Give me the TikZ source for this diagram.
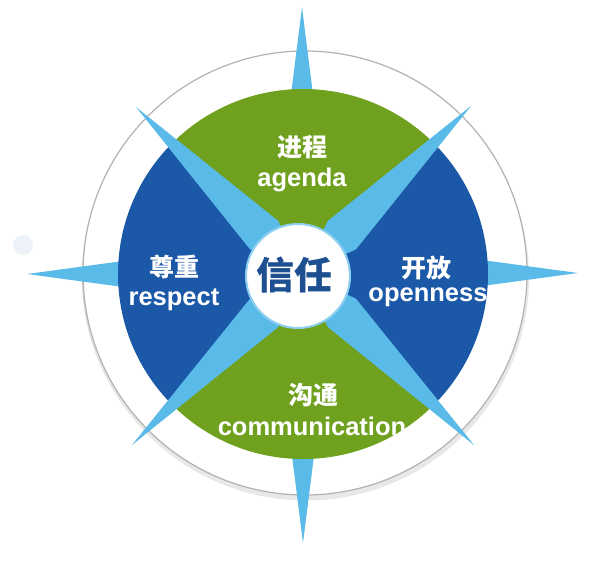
\documentclass[tikz,border=0pt]{standalone}
\usepackage{fontspec}
\usetikzlibrary{calc}
\setmainfont{Liberation Sans}
\newfontfamily\cjk{Noto Sans CJK SC}
\definecolor{dgreen}{HTML}{6FA11E}
\definecolor{dblue}{HTML}{1B59A8}
\definecolor{lblue}{HTML}{5BBBE8}
\definecolor{tblue}{HTML}{1D4F91}
\definecolor{dotc}{HTML}{EDF2F8}
\begin{document}
\begin{tikzpicture}[x=1pt,y=-1pt,
  lab/.style={text=white,font=\fontsize{25.5}{28}\selectfont\bfseries,inner sep=0pt},
  zh/.style={text=white,font=\cjk\fontsize{25}{27}\selectfont\bfseries,inner sep=0pt},
  spike/.style={fill=lblue,draw=none}]
\useasboundingbox (0,0) rectangle (610,563);
\coordinate (c) at (303,274);
% faint dot
\fill[dotc] (23,245) circle (10);
% outer ring with shadow
\fill[black!20] (305,276) circle (223);
\fill[black!9] (306,277.5) circle (223);
\fill[white,draw=black!30,line width=1.2pt] (305,273) circle (222);
% cardinal spikes (behind disc)
\fill[spike] (302,7) -- (320,150) -- (284,150) -- cycle;
\fill[spike] (303,543) -- (285,400) -- (321,400) -- cycle;
\fill[spike] (27,274) -- (160,256) -- (160,292) -- cycle;
\fill[spike] (578,273) -- (445,291) -- (445,255) -- cycle;
% sectors
\begin{scope}
\clip (c) circle (185);
\fill[dblue] (c) -- (3,-26) -- (3,574) -- cycle;
\fill[dblue] (c) -- (603,-26) -- (603,574) -- cycle;
\fill[dgreen] (c) -- (3,-26) -- (603,-26) -- cycle;
\fill[dgreen] (c) -- (3,574) -- (603,574) -- cycle;
\end{scope}
% diagonal spikes
\foreach \a/\L in {45/238,135/236,225/242,315/242}{
  \begin{scope}[shift={(c)},rotate=\a]
    \fill[spike] (0,0) -- (55,20) -- (\L,0) -- (55,-20) -- cycle;
  \end{scope}
}
% center
\node[circle,fill=white,draw=lblue!70,line width=2pt,minimum size=104pt,inner sep=0pt] (hub) at (298,276) {};
\node[text=tblue,font=\cjk\fontsize{38}{40}\selectfont\bfseries,inner sep=0pt] (xr) at (294,275) {信任};
% labels
\node[zh] (z1) at (302,147) {进程};
\node[lab] (e1) at (302,180) {agenda};
\node[zh] (z2) at (426,268) {开放};
\node[lab] (e2) at (428,297) {openness};
\node[zh] (z3) at (174,267) {尊重};
\node[lab] (e3) at (174,300) {respect};
\node[zh] (z4) at (313,395) {沟通};
\node[lab] (e4) at (312,426) {communication};
\end{tikzpicture}
\end{document}
